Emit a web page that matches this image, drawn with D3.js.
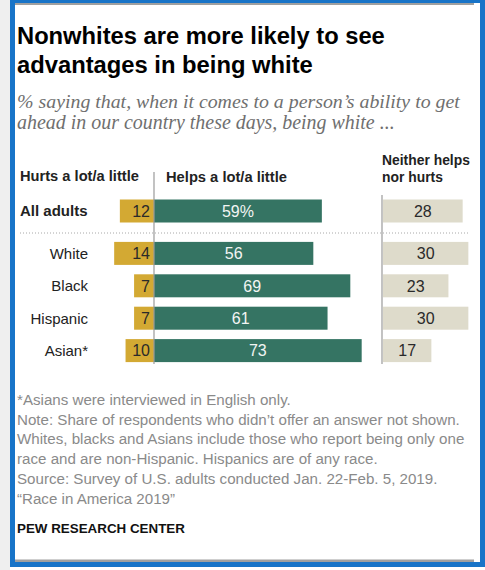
<!DOCTYPE html>
<html><head><meta charset="utf-8">
<script src="https://cdn.jsdelivr.net/npm/d3@7"></script>
<style>html,body{margin:0;padding:0;background:#fff;}svg{display:block;}</style>
</head><body>
<svg id="c" width="485" height="570"></svg>
<script>
const categories = ["All adults", "White", "Black", "Hispanic", "Asian*"];
const hurts   = [12, 14, 7, 7, 10];
const helps   = [59, 56, 69, 61, 73];
const neither = [28, 30, 23, 30, 17];
const helpsLabels = ["59%", "56", "69", "61", "73"];
const titleLines = ["Nonwhites are more likely to see", "advantages in being white"];
const subtitleLines = ["% saying that, when it comes to a person\u2019s ability to get",
                       "ahead in our country these days, being white ..."];
const headers = {hurts: ["Hurts a lot/a little"], helps: ["Helps a lot/a little"], neither: ["Neither helps", "nor hurts"]};
const notes = ["*Asians were interviewed in English only.",
  "Note: Share of respondents who didn\u2019t offer an answer not shown.",
  "Whites, blacks and Asians include those who report being only one",
  "race and are non-Hispanic. Hispanics are of any race.",
  "Source: Survey of U.S. adults conducted Jan. 22-Feb. 5, 2019.",
  "\u201CRace in America 2019\u201D"];
const credit = "PEW RESEARCH CENTER";

const svg = d3.select("#c");
const SANS = "'Liberation Sans', Arial, sans-serif";
const SERIF = "'Liberation Serif', 'DejaVu Serif', serif";

// frame
svg.append("rect").attr("x",0).attr("y",0).attr("width",10).attr("height",570).attr("fill","#efefef");
svg.append("rect").attr("x",12.5).attr("y",0.5).attr("width",470).attr("height",564)
  .attr("fill","#fff").attr("stroke","#1874c8").attr("stroke-width",5);
svg.append("rect").attr("x",15).attr("y",3).attr("width",459).attr("height",2).attr("fill","#a0a0a0");
svg.append("rect").attr("x",15).attr("y",559.5).attr("width",459).attr("height",2.5).attr("fill","#a0a0a0");

function fit(sel, target){
  let out = 0;
  sel.each(function(){
    const w = this.getComputedTextLength();
    const fs = parseFloat(d3.select(this).attr("font-size"));
    out = fs*target/w;
    d3.select(this).attr("font-size", out.toFixed(2));
  });
  return out;
}

// title
const titleW = [368, 296];
titleLines.forEach((t,i)=>{
  const tx = svg.append("text").attr("x",17).attr("y",44+i*29).attr("font-family",SANS)
    .attr("font-weight","bold").attr("font-size",24).attr("fill","#000").text(t);
  fit(tx, titleW[i]);
});
const subW = [443, 378];
subtitleLines.forEach((t,i)=>{
  const tx = svg.append("text").attr("x",17).attr("y",108+i*21).attr("font-family",SERIF)
    .attr("font-style","italic").attr("font-size",17).attr("fill","#6f6f6f").text(t);
  fit(tx, subW[i]);
});

// scales
const x0 = 154, xN = 383;
const x = d3.scaleLinear().domain([0,100]).range([0,284.5]);
const step = 32.4, barH = 23;
const y = d3.scaleBand().domain(categories)
  .range([199.5 - (step-barH)/2, 199.5 - (step-barH)/2 + step*5])
  .paddingInner((step-barH)/step).paddingOuter((step-barH)/step/2);
const yy = c => y(c) + (c === categories[0] ? 0 : 10);
const bh = y.bandwidth();

const rows = categories.map((c,i)=>({c, h:hurts[i], p:helps[i], n:neither[i], pl:helpsLabels[i], i}));

// headers
const hdr = (t,xx,yv,w)=>{ const s = svg.append("text").attr("x",xx).attr("y",yv).attr("font-family",SANS)
  .attr("font-weight","bold").attr("font-size",13).attr("fill","#222").text(t); if(w) fit(s,w); return s; };
hdr(headers.hurts[0], 20, 181, 119);
hdr(headers.helps[0], 166, 182, 121);
const nh = hdr(headers.neither[0], 382, 165, 88);
hdr(headers.neither[1], 382, 182).attr("font-size", nh.attr("font-size"));

// dotted separator
svg.append("line").attr("x1",20).attr("x2",470).attr("y1",233).attr("y2",233)
  .attr("stroke","#a8a8a8").attr("stroke-width",1).attr("stroke-dasharray","1,2");

// bars
const g = svg.append("g");
g.selectAll(".hurt").data(rows).join("rect").attr("x",d=>x0 - x(d.h)).attr("y",d=>yy(d.c))
  .attr("width",d=>x(d.h)).attr("height",bh).attr("fill","#d3a933");
g.selectAll(".help").data(rows).join("rect").attr("x",x0).attr("y",d=>yy(d.c))
  .attr("width",d=>x(d.p)).attr("height",bh).attr("fill","#357463");
g.selectAll(".nei").data(rows).join("rect").attr("x",xN).attr("y",d=>yy(d.c))
  .attr("width",d=>x(d.n)).attr("height",bh).attr("fill","#dedbcb");

// axis lines
svg.append("line").attr("x1",x0).attr("x2",x0).attr("y1",172).attr("y2",364).attr("stroke","#9a9a9a").attr("stroke-width",1.2);
svg.append("line").attr("x1",xN-1).attr("x2",xN-1).attr("y1",195).attr("y2",364).attr("stroke","#9a9a9a").attr("stroke-width",1.2);

// values
const vt = (sel)=>sel.attr("font-family",SANS).attr("font-size",16).attr("dy","0.36em");
vt(g.selectAll(".hv").data(rows).join("text").attr("x",x0-4).attr("y",d=>yy(d.c)+bh/2)
  .attr("text-anchor","end").attr("fill","#2a2a2a").text(d=>d.h));
vt(g.selectAll(".pv").data(rows).join("text").attr("x",d=>x0+x(d.p)/2).attr("y",d=>yy(d.c)+bh/2)
  .attr("text-anchor","middle").attr("fill","#f2f5f3").text(d=>d.pl));
vt(g.selectAll(".nv").data(rows).join("text").attr("x",d=>xN+x(d.n)/2).attr("y",d=>yy(d.c)+bh/2)
  .attr("text-anchor","middle").attr("fill","#2a2a2a").text(d=>d.n));

// row labels
g.selectAll(".rl").data(rows).join("text")
  .attr("x",d=>d.i===0?20:88).attr("y",d=>yy(d.c)+bh/2).attr("dy","0.36em")
  .attr("text-anchor",d=>d.i===0?"start":"end")
  .attr("font-family",SANS).attr("font-size",15).attr("font-weight",d=>d.i===0?"bold":"normal")
  .attr("fill","#222").text(d=>d.c);

// notes
const noteTexts = notes.map((t,i)=>svg.append("text").attr("x",17).attr("y",405+i*19.7).attr("font-family",SANS)
  .attr("font-size",14).attr("fill","#8a8a8a").text(t));
const nfs = fit(noteTexts[1], 443);
noteTexts.forEach(s=>s.attr("font-size", nfs.toFixed(2)));
const cr = svg.append("text").attr("x",17).attr("y",533).attr("font-family",SANS).attr("font-weight","bold")
  .attr("font-size",13).attr("fill","#111").text(credit);
fit(cr, 168);
</script>
</body></html>
